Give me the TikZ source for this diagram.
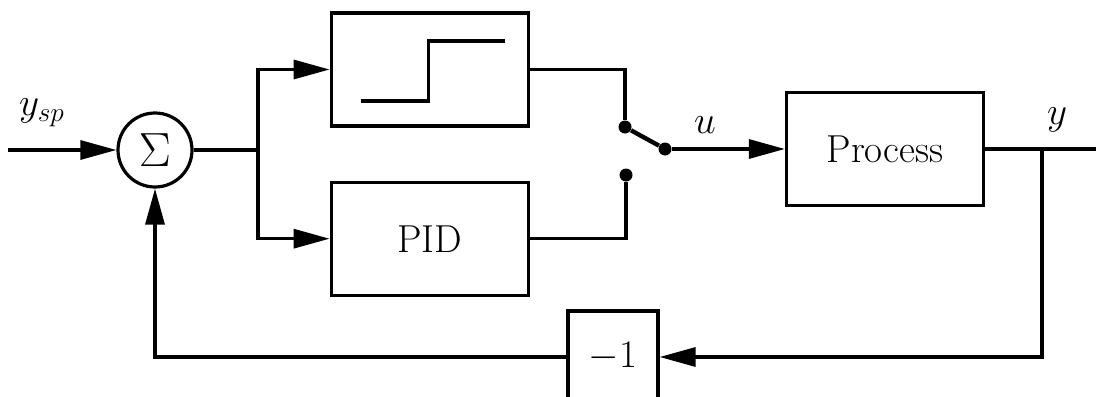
\RequirePackage{fix-cm}
\documentclass[tikz,border=0pt]{standalone}
\usepackage{tikz}
\usetikzlibrary{arrows.meta, positioning, calc}

\begin{document}
\begin{tikzpicture}[
                x=0.5pt, y=-0.5pt,
                font=\fontsize{19.5}{23}\selectfont,
                block/.style={rectangle, draw=black, line width=1.6pt, minimum width=98.5pt, minimum height=56.5pt, inner sep=0pt},
                gainbox/.style={rectangle, draw=black, line width=1.6pt, minimum width=45pt, minimum height=46pt, inner sep=0pt},
                sumnode/.style={circle, draw=black, line width=1.6pt, minimum size=37pt, inner sep=0pt, font=\fontsize{24}{28}\selectfont},
                contact/.style={circle, fill=black, minimum size=6.5pt, inner sep=0pt},
                sigline/.style={line width=1.6pt},
                arrow/.style={line width=1.6pt, -{Triangle[length=18pt, width=9.5pt]}}
            ]%
            \useasboundingbox (0,0) rectangle (1096,396);
            %
            % sumador y bloques
            \node[sumnode] (sum) at (155,150) {$\Sigma$};
            \node[block, right=68pt of sum, yshift=40.25pt] (relay) {};
            \node[block, below=26.5pt of relay] (pid) {PID};
            \node[block] (proc) at (885,149) {Process};
            \node[gainbox] (gain) at (613,357) {$-1$};
            %
            % rele: escalon
            \draw[sigline] ([shift={(-69,31.5)}]relay.center) -- ([shift={(-1.5,31.5)}]relay.center)
                -- ([shift={(-1.5,-28.5)}]relay.center) -- ([shift={(75.5,-28.5)}]relay.center);
            %
            % conmutador
            \node[contact] (swtop) at (625,127) {};
            \node[contact] (swbot) at (626,175) {};
            \node[contact] (pivot) at (665,149) {};
            %
            \coordinate (in) at (8,150);
            \coordinate (split) at (258,150);
            \coordinate (tap) at (1042,149);
            \coordinate (out) at (1096,149);
            %
            % Conexiones
            \draw[arrow] (in) -- (sum.west);
            \draw[sigline] (sum.east) -- (split);
            \draw[arrow] (split) |- (relay.west);
            \draw[arrow] (split) |- (pid.west);
            \draw[sigline] (relay.east) -| (swtop);
            \draw[sigline] (pid.east) -| (swbot);
            \draw[line width=2.2pt] (swtop) -- (pivot);
            \draw[arrow] (pivot) -- (proc.west);
            \draw[sigline] (proc.east) -- (out);
            \draw[arrow] (tap) |- (gain.east);
            \draw[arrow] (gain.west) -| (sum.south);
            %
            % Etiquetas
            \node (lysp) at (42,113) {$y_{sp}$};
            \node (lu) at (705,125) {$u$};
            \node (ly) at (1057,120) {$y$};
        \end{tikzpicture}
\end{document}
